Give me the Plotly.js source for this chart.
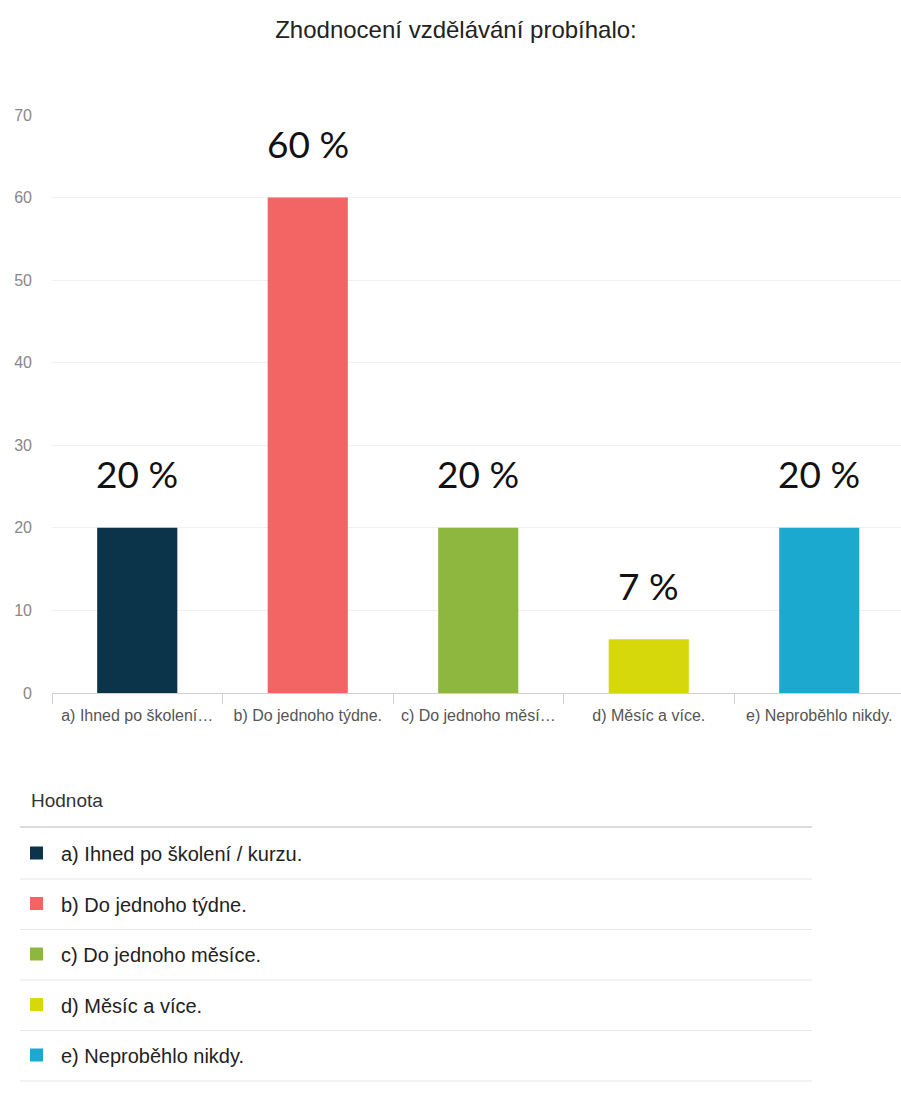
<!DOCTYPE html>
<html>
<head>
<meta charset="utf-8">
<script src="https://cdn.plot.ly/plotly-3.0.1.min.js"></script>
<style>html,body{margin:0;padding:0;background:#fff;}#chart{width:901px;height:1095px;}</style>
</head>
<body>
<div id="chart"></div>
<script>
// ---- data ----
const categoryKeys = ["a", "b", "c", "d", "e"];
const categories = ["a) Ihned po školení / kurzu.", "b) Do jednoho týdne.", "c) Do jednoho měsíce.", "d) Měsíc a více.", "e) Neproběhlo nikdy."];
const tickLabels = ["a) Ihned po školení…", "b) Do jednoho týdne.", "c) Do jednoho měsí…", "d) Měsíc a více.", "e) Neproběhlo nikdy."];
const values = [20, 60, 20, 6.5, 20];
const valueLabels = ["20 %", "60 %", "20 %", "7 %", "20 %"];
const colors = ["#0b3349", "#f36464", "#8db73f", "#d7d80b", "#1ba9cf"];
const yTicks = [0, 10, 20, 30, 40, 50, 60, 70];
const titleText = "Zhodnocení vzdělávání probíhalo:";
const legendHeader = "Hodnota";

// ---- geometry ----
const W = 901, H = 1095;
const L = 52, T = 115, B = 693;
const plotW = W - L, plotH = B - T;
const catW = 170.5;
const px2x = px => (px - L) / plotW;
const py2y = py => (B - py) / plotH;

const trace = {
  type: "bar",
  x: categoryKeys,
  y: values,
  marker: {color: colors},
  hoverinfo: "none",
  showlegend: false
};

const annotations = [];
categoryKeys.forEach((k, i) => {
  annotations.push({
    x: k, y: values[i], xref: "x", yref: "y",
    text: valueLabels[i], showarrow: false,
    yanchor: "middle", yshift: 54,
    font: {family: "Lato, 'Open Sans', sans-serif", size: 37, color: "#111"}
  });
});

const shapes = [];
// legend table
annotations.push({
  xref: "paper", yref: "paper", x: px2x(29), y: py2y(800),
  xanchor: "left", yanchor: "middle", text: legendHeader, showarrow: false,
  font: {family: "'Liberation Sans', Arial, sans-serif", size: 19, color: "#333"}
});
shapes.push({type: "line", xref: "paper", yref: "paper",
  x0: px2x(20), x1: px2x(812), y0: py2y(827), y1: py2y(827),
  line: {color: "#dcdcdc", width: 2}});
const rowH = 50.5;
categories.forEach((c, i) => {
  const cy = 853 + rowH * i;
  shapes.push({type: "rect", xref: "paper", yref: "paper",
    x0: px2x(30), x1: px2x(43), y0: py2y(cy - 6.5), y1: py2y(cy + 6.5),
    fillcolor: colors[i], line: {width: 0}});
  annotations.push({
    xref: "paper", yref: "paper", x: px2x(59), y: py2y(cy + 1),
    xanchor: "left", yanchor: "middle", text: c, showarrow: false,
    font: {family: "'Liberation Sans', Arial, sans-serif", size: 20, color: "#222"}
  });
  const ly = 879 + rowH * i;
  shapes.push({type: "line", xref: "paper", yref: "paper",
    x0: px2x(20), x1: px2x(812), y0: py2y(ly), y1: py2y(ly),
    line: {color: "#e8e8e8", width: 1}});
});

const layout = {
  width: W, height: H,
  margin: {l: L, r: 0, t: T, b: H - B, pad: 0},
  paper_bgcolor: "#fff", plot_bgcolor: "#fff",
  title: {
    text: titleText, xref: "container", yref: "container",
    x: 456 / W, y: 1 - 30 / H, xanchor: "center", yanchor: "middle",
    font: {family: "'Liberation Sans', Arial, sans-serif", size: 24, color: "#222"}
  },
  bargap: 0.53,
  xaxis: {
    type: "category",
    range: [-0.5, -0.5 + plotW / catW],
    tickmode: "array", tickvals: categoryKeys, ticktext: tickLabels,
    tickson: "boundaries", ticks: "outside", ticklen: 10, tickcolor: "#d0d0d0",
    tickangle: 0, ticklabelstandoff: 8,
    showline: true, linecolor: "#d0d0d0", linewidth: 1,
    showgrid: false, zeroline: false,
    tickfont: {family: "'Liberation Sans', Arial, sans-serif", size: 16, color: "#555"},
    fixedrange: true
  },
  yaxis: {
    range: [0, 70],
    tickmode: "array", tickvals: yTicks,
    showgrid: true, gridcolor: "#f0f0f0", zeroline: false,
    showline: false, ticks: "",
    ticklabelstandoff: 19,
    tickfont: {family: "'Liberation Sans', Arial, sans-serif", size: 16, color: "#888"},
    fixedrange: true
  },
  annotations: annotations,
  shapes: shapes
};

Plotly.newPlot("chart", [trace], layout, {displayModeBar: false, staticPlot: true});
</script>
</body>
</html>
